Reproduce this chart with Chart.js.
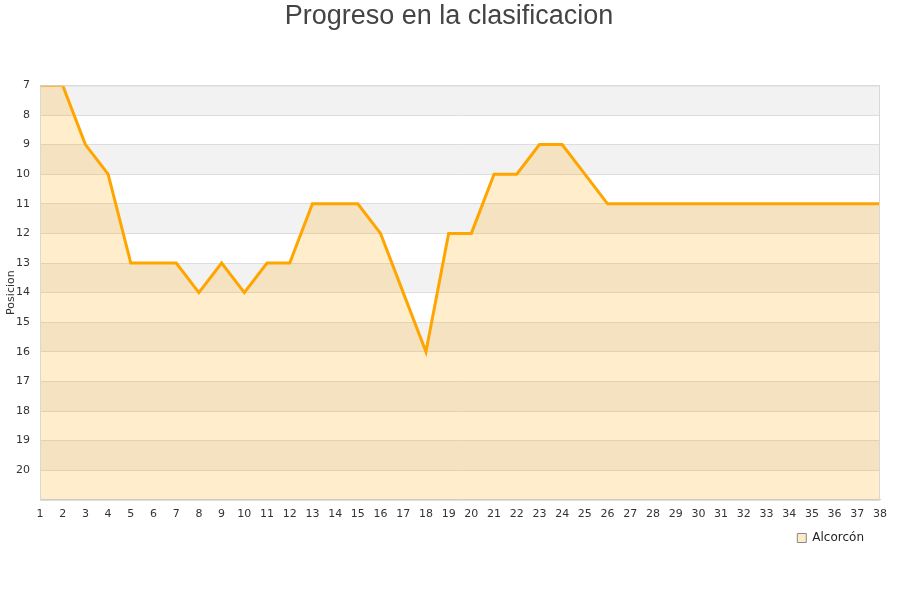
<!DOCTYPE html>
<html>
<head>
<meta charset="utf-8">
<script src="https://cdn.jsdelivr.net/npm/chart.js@4"></script>
<style>
  html, body { margin: 0; padding: 0; background: #fff; }
  #wrap { width: 900px; height: 600px; }
</style>
</head>
<body>
<div id="wrap"><canvas id="posChart" width="900" height="600"></canvas></div>
<script>
'use strict';

// ── Data ─────────────────────────────────────────
const jornadas = Array.from({ length: 38 }, (_, i) => String(i + 1));
const posiciones = [7, 7, 9, 10, 13, 13, 13, 14, 13, 14, 13, 13, 11, 11, 11, 12, 14, 16, 12, 12,
                    10, 10, 9, 9, 10, 11, 11, 11, 11, 11, 11, 11, 11, 11, 11, 11, 11, 11];
const yMin = 7;
const yMax = 21;

// ── Alternating row bands behind the plot ────────
const bandsPlugin = {
  id: 'bands',
  beforeDraw(chart) {
    const { ctx, chartArea: a, scales: { y } } = chart;
    ctx.save();
    ctx.fillStyle = '#f2f2f2';
    for (let v = yMin; v < yMax; v += 2) {
      const y0 = y.getPixelForValue(v);
      const y1 = y.getPixelForValue(v + 1);
      ctx.fillRect(a.left, y0, a.right - a.left, y1 - y0);
    }
    ctx.restore();
  },
  afterDraw(chart) {
    const { ctx, chartArea: a } = chart;
    ctx.save();
    ctx.strokeStyle = '#d8d8d8';
    ctx.lineWidth = 1;
    ctx.strokeRect(a.left + 0.5, a.top + 0.5, a.right - a.left - 1, a.bottom - a.top);
    ctx.restore();
  }
};

new Chart(document.getElementById('posChart'), {
  type: 'line',
  data: {
    labels: jornadas,
    datasets: [{
      label: 'Alcorcón',
      data: posiciones,
      borderColor: '#ffa500',
      backgroundColor: 'rgba(255,165,0,0.2)',
      borderWidth: 3,
      pointRadius: 0,
      tension: 0,
      fill: { value: yMax },
    }],
  },
  options: {
    responsive: false,
    animation: false,
    layout: { padding: { left: 0, right: 2, top: 0, bottom: 46 } },
    plugins: {
      title: {
        display: true,
        text: 'Progreso en la clasificacion',
        color: '#444444',
        font: { family: 'Liberation Sans', size: 27, weight: 'normal' },
        padding: { top: 0, bottom: 53 },
      },
      legend: {
        position: 'bottom',
        align: 'end',
        fullSize: false,
        // empty title with negative padding pulls the item up under the axis labels
        title: { display: true, text: '', font: { size: 0 }, padding: { top: -13, bottom: 0 } },
        labels: {
          boxWidth: 9,
          boxHeight: 9,
          padding: 16,
          color: '#222',
          font: { family: 'DejaVu Sans', size: 12 },
          generateLabels: chart => [{
            text: 'Alcorcón',
            fillStyle: '#fdebc8',
            strokeStyle: '#888',
            fontColor: '#222',
            lineWidth: 1,
            datasetIndex: 0,
          }],
        },
      },
      tooltip: { enabled: false },
    },
    scales: {
      x: {
        grid: { display: false, drawTicks: false },
        border: { color: '#cccccc' },
        ticks: {
          color: '#333',
          padding: 8,
          font: { family: 'DejaVu Sans', size: 11 },
          maxRotation: 0,
          autoSkip: false,
        },
      },
      y: {
        reverse: true,
        min: yMin,
        max: yMax,
        afterFit: s => { s.width = 40; },
        grid: { color: '#dddddd', drawTicks: false },
        border: { color: '#cccccc' },
        title: {
          display: true,
          text: 'Posicion',
          color: '#333',
          font: { family: 'DejaVu Sans', size: 11 },
          padding: { top: 5, bottom: 0 },
        },
        ticks: {
          stepSize: 1,
          color: '#333',
          padding: 10,
          font: { family: 'DejaVu Sans', size: 11 },
          callback: v => (v === yMax ? '' : v),
        },
      },
      yRight: {
        position: 'right',
        display: true,
        afterFit: s => { s.width = 18; },
        grid: { display: false, drawTicks: false },
        border: { display: false },
        ticks: { display: false },
      },
    },
  },
  plugins: [bandsPlugin],
});
</script>
</body>
</html>
